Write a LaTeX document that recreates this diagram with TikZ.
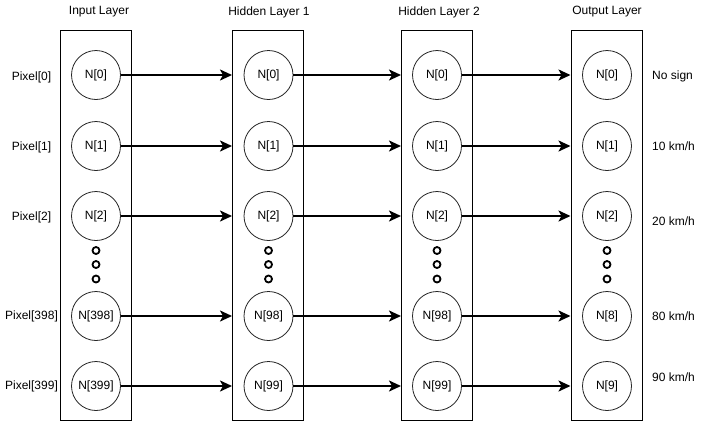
\documentclass[tikz,border=0pt]{standalone}
\usepackage{fontspec}
\setmainfont{Liberation Sans}
\usetikzlibrary{arrows.meta}
\begin{document}
\begin{tikzpicture}[x=1pt,y=-1pt,
  layerbox/.style={draw=black,line width=1pt,minimum width=71pt,minimum height=390pt,inner sep=0pt},
  neuron/.style={circle,draw=black!85,line width=0.8pt,minimum size=49pt,inner sep=0pt,font=\fontsize{12pt}{14pt}\selectfont},
  dotc/.style={circle,draw=black,line width=1.8pt,minimum size=7pt,inner sep=0pt},
  lbl/.style={inner sep=0pt,font=\fontsize{12pt}{14pt}\selectfont},
  arr/.style={line width=2pt,-{Stealth[length=12pt,width=11pt,inset=3pt]}}]
\useasboundingbox (0,0) rectangle (703,421);
\fill[white] (0,0) rectangle (703,421);
% layer boxes
\node[layerbox] (box0) at (96,225) {};
\node[layerbox] (box1) at (268,225) {};
\node[layerbox] (box2) at (437,225) {};
\node[layerbox] (box3) at (606.5,225) {};
% titles
\node[lbl] (t0) at (99,12) {Input Layer};
\node[lbl] (t1) at (269,12) {Hidden Layer 1};
\node[lbl] (t2) at (439,12) {Hidden Layer 2};
\node[lbl] (t3) at (607,12) {Output Layer};
% neurons
\foreach \l/\x/\a/\b in {0/96/398/399, 1/268.5/98/99, 2/437/98/99, 3/607/8/9}{
  \node[neuron] (n\l-0) at (\x,75) {N[0]};
  \node[neuron] (n\l-1) at (\x,146) {N[1]};
  \node[neuron] (n\l-2) at (\x,216) {N[2]};
  \node[neuron] (n\l-3) at (\x,316) {N[\a]};
  \node[neuron] (n\l-4) at (\x,386) {N[\b]};
  \node[dotc] (d\l-0) at (\x,250.5) {};
  \node[dotc] (d\l-1) at (\x,264.5) {};
  \node[dotc] (d\l-2) at (\x,279) {};
}
% arrows
\foreach \l/\m in {0/1,1/2,2/3}{
  \foreach \r in {0,...,4}{
    \draw[arr] (n\l-\r.east) -- (n\l-\r.east -| box\m.west);
  }
}
% input labels
\node[lbl] (p0) at (31.5,77) {Pixel[0]};
\node[lbl] (p1) at (31.5,147) {Pixel[1]};
\node[lbl] (p2) at (31.5,217) {Pixel[2]};
\node[lbl] (p3) at (31.5,316) {Pixel[398]};
\node[lbl] (p4) at (31.5,386) {Pixel[399]};
% output labels
\node[lbl,anchor=west] (o0) at (652,76) {No sign};
\node[lbl,anchor=west] (o1) at (652,146) {10 km/h};
\node[lbl,anchor=west] (o2) at (652,221) {20 km/h};
\node[lbl,anchor=west] (o3) at (652,316) {80 km/h};
\node[lbl,anchor=west] (o4) at (652,377) {90 km/h};
\end{tikzpicture}
\end{document}
